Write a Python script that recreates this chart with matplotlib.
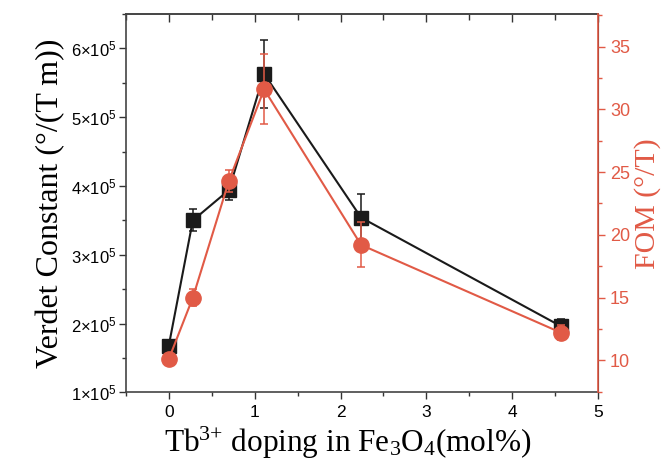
import matplotlib
matplotlib.use("Agg")
import matplotlib.pyplot as plt
from matplotlib.ticker import MultipleLocator, FuncFormatter

# data
doping = [0, 0.28, 0.70, 1.11, 2.24, 4.57]
verdet = [1.68e5, 3.50e5, 3.94e5, 5.63e5, 3.54e5, 1.96e5]
verdet_err = [0.0, 0.16e5, 0.14e5, 0.49e5, 0.34e5, 0.11e5]
fom = [10.1, 15.0, 24.3, 31.6, 19.2, 12.2]
fom_err = [0.0, 0.7, 0.85, 2.8, 1.8, 0.6]

red = '#E15A46'
blk = '#1a1a1a'
serif = 'Liberation Serif'
sans = 'Liberation Sans'

plt.rcParams['mathtext.fontset'] = 'custom'
plt.rcParams['mathtext.rm'] = serif
plt.rcParams['mathtext.sf'] = sans

fig = plt.figure(figsize=(6.66, 4.66), dpi=100)
ax = fig.add_axes([0.189, 0.158, 0.709, 0.812])

ax.errorbar(doping, verdet, yerr=verdet_err, color=blk, marker='s', markersize=10,
            linewidth=1.5, elinewidth=1.1, capsize=3, capthick=1.1, zorder=3)
ax.set_xlim(-0.5, 5)
ax.set_ylim(1e5, 6.5e5)
ax.xaxis.set_major_locator(MultipleLocator(1))
ax.xaxis.set_minor_locator(MultipleLocator(0.5))
ax.yaxis.set_major_locator(MultipleLocator(1e5))
ax.yaxis.set_minor_locator(MultipleLocator(0.5e5))
ax.yaxis.set_major_formatter(FuncFormatter(
    lambda v, p: r'$\mathsf{%d{\times}10^{5}}$' % round(v / 1e5)))

ax.tick_params(axis='x', which='both', direction='out', labelsize=12.5,
               color='#333333', width=1.0, pad=4)
ax.tick_params(axis='x', which='major', length=5)
ax.tick_params(axis='x', which='minor', length=3)
ax.tick_params(axis='y', which='both', direction='out', labelsize=12,
               color='#333333', width=1.0, pad=2)
ax.tick_params(axis='y', which='major', length=5)
ax.tick_params(axis='y', which='minor', length=3)
for t in ax.get_xticklabels() + ax.get_yticklabels():
    t.set_fontfamily(sans)

# top ticks point inward
sec = ax.secondary_xaxis('top')
sec.xaxis.set_major_locator(MultipleLocator(1))
sec.xaxis.set_minor_locator(MultipleLocator(0.5))
sec.tick_params(which='both', direction='in', labeltop=False, color='#333333', width=1.0)
sec.tick_params(which='major', length=6)
sec.tick_params(which='minor', length=4)
sec.spines['top'].set_color('#444444')
sec.spines['top'].set_linewidth(1.2)

for s in ['left', 'bottom', 'top']:
    ax.spines[s].set_color('#444444')
    ax.spines[s].set_linewidth(1.2)

ax.set_xlabel(r'Tb$\mathregular{^{3{+}}}$ doping in Fe$\mathregular{_{3}}$O$\mathregular{_{4}}$(mol%)',
              fontfamily=serif, fontsize=22.5)
ax.xaxis.set_label_coords(0.469, -0.085)
ax.set_ylabel('Verdet Constant (°/(T m))', fontfamily=serif, fontsize=23, labelpad=4)

ax2 = ax.twinx()
ax2.errorbar(doping, fom, yerr=fom_err, color=red, marker='o', markersize=11,
             linewidth=1.5, elinewidth=1.1, capsize=3, capthick=1.1, zorder=3)
ax2.set_ylim(7.45, 37.6)
ax2.yaxis.set_major_locator(MultipleLocator(5))
ax2.yaxis.set_minor_locator(MultipleLocator(2.5))
ax2.tick_params(axis='y', which='both', direction='out', colors=red, labelsize=13, width=1.0)
ax2.tick_params(axis='y', which='major', length=5)
ax2.tick_params(axis='y', which='minor', length=3)
for t in ax2.get_yticklabels():
    t.set_fontfamily(sans)
ax2.spines['right'].set_color(red)
ax2.spines['right'].set_linewidth(1.2)
ax2.spines['left'].set_visible(False)
ax2.spines['top'].set_visible(False)
ax2.spines['bottom'].set_visible(False)
ax2.set_ylabel('FOM (°/T)', fontfamily=serif, fontsize=21.5, color=red, labelpad=3)

fig.savefig('out.png', dpi=100)
